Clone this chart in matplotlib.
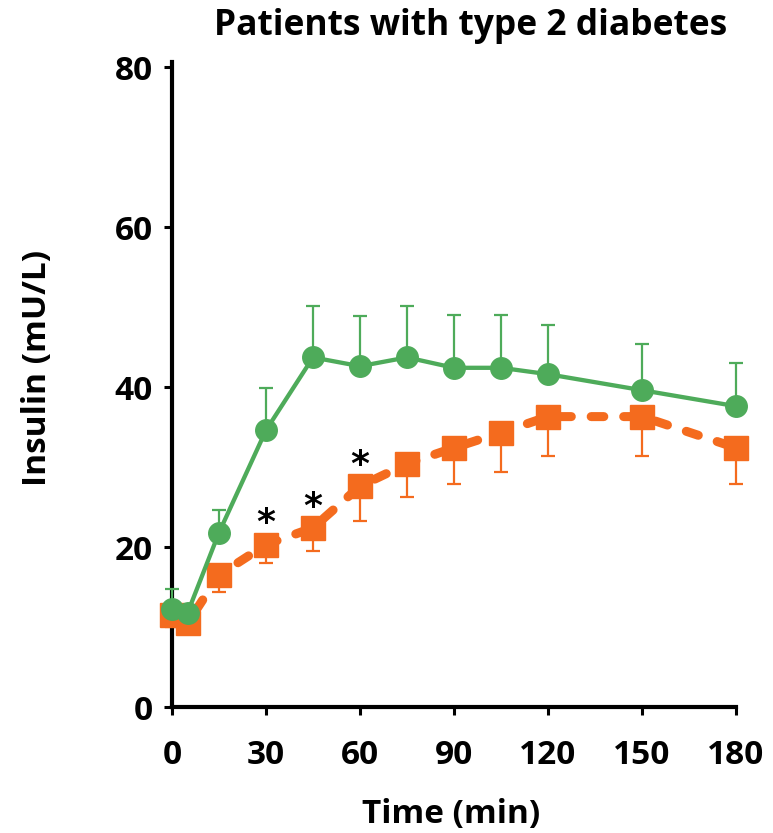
import matplotlib
matplotlib.use('Agg')
import numpy as np
import matplotlib.pyplot as plt

# ---- Data
time_min = [0, 5, 15, 30, 45, 60, 75, 90, 105, 120, 150, 180]

green_mean = [12.3, 11.8, 21.8, 34.6, 43.7, 42.6, 43.7, 42.4, 42.4, 41.6, 39.6, 37.6]
green_upper = [14.7, 11.8, 24.6, 39.9, 50.1, 48.9, 50.1, 49.0, 49.0, 47.8, 45.4, 43.0]

orange_mean = [11.5, 10.5, 16.5, 20.3, 22.4, 27.6, 30.4, 32.4, 34.3, 36.3, 36.3, 32.4]
orange_lower = [10.0, 10.5, 14.4, 18.0, 19.5, 23.2, 26.2, 27.9, 29.4, 31.4, 31.4, 27.9]

sig_times = [30, 45, 60]

x_ticks = [0, 30, 60, 90, 120, 150, 180]
y_ticks = [0, 20, 40, 60, 80]

GREEN = '#4eab5a'
ORANGE = '#f46b1e'
FONT = 'Open Sans'
FS = 24

plt.rcParams['font.family'] = [FONT, 'DejaVu Sans']
plt.rcParams['font.weight'] = 'bold'

fig = plt.figure(figsize=(7.73, 8.33), dpi=100)
ax = fig.add_axes([172 / 773, 1 - 707 / 833, (736 - 172) / 773, (707 - 62.2) / 833])

# ---- Orange series (dashed, error bars downward)
o_mean = np.array(orange_mean)
o_err = o_mean - np.array(orange_lower)
ax.errorbar(time_min, o_mean, yerr=[o_err, np.zeros_like(o_err)], fmt='none',
            ecolor=ORANGE, elinewidth=1.6, capsize=4.7, capthick=1.6, zorder=2, clip_on=False)
ax.plot(time_min, o_mean, color=ORANGE, linewidth=6.5, linestyle=(0, (1.4, 2.2)),
        dash_capstyle='round', zorder=3, clip_on=False)
ax.plot(time_min, o_mean, linestyle='none', marker='s', markersize=17,
        color=ORANGE, zorder=4, clip_on=False)

# ---- Green series (solid, error bars upward)
g_mean = np.array(green_mean)
g_err = np.array(green_upper) - g_mean
ax.errorbar(time_min, g_mean, yerr=[np.zeros_like(g_err), g_err], fmt='none',
            ecolor=GREEN, elinewidth=1.6, capsize=4.7, capthick=1.6, zorder=5, clip_on=False)
ax.plot(time_min, g_mean, color=GREEN, linewidth=3.1, marker='o', markersize=15.5,
        zorder=6, clip_on=False)

# ---- Significance markers
for t in sig_times:
    v = orange_mean[time_min.index(t)]
    ax.annotate('*', (t, v), xytext=(0, 3), textcoords='offset points',
                ha='center', va='bottom', fontsize=26, fontweight='bold',
                family='DejaVu Sans', color='black')

# ---- Axes styling
ax.set_xlim(0, 180)
ax.set_ylim(0, 80.6)
ax.set_xticks(x_ticks)
ax.set_yticks(y_ticks)
for s in ['top', 'right']:
    ax.spines[s].set_visible(False)
for s in ['left', 'bottom']:
    ax.spines[s].set_linewidth(3)
ax.tick_params(axis='both', direction='out', length=6, width=2.2,
               labelsize=FS, pad=8)
ax.tick_params(axis='x', pad=17)
for lab in ax.get_xticklabels() + ax.get_yticklabels():
    lab.set_fontweight('bold')

# ---- Labels and title
fig.text(451 / 773, 1 - 823 / 833, 'Time (min)', ha='center', va='baseline',
         fontsize=FS, fontweight='bold')
fig.text(38 / 773, 1 - 368 / 833, 'Insulin (mU/L)', ha='center', va='center',
         rotation=90, fontsize=FS, fontweight='bold')
fig.text(471 / 773, 1 - 35 / 833, 'Patients with type 2 diabetes', ha='center',
         va='baseline', fontsize=25.5, fontweight='bold')

fig.savefig('out.png', dpi=100)
